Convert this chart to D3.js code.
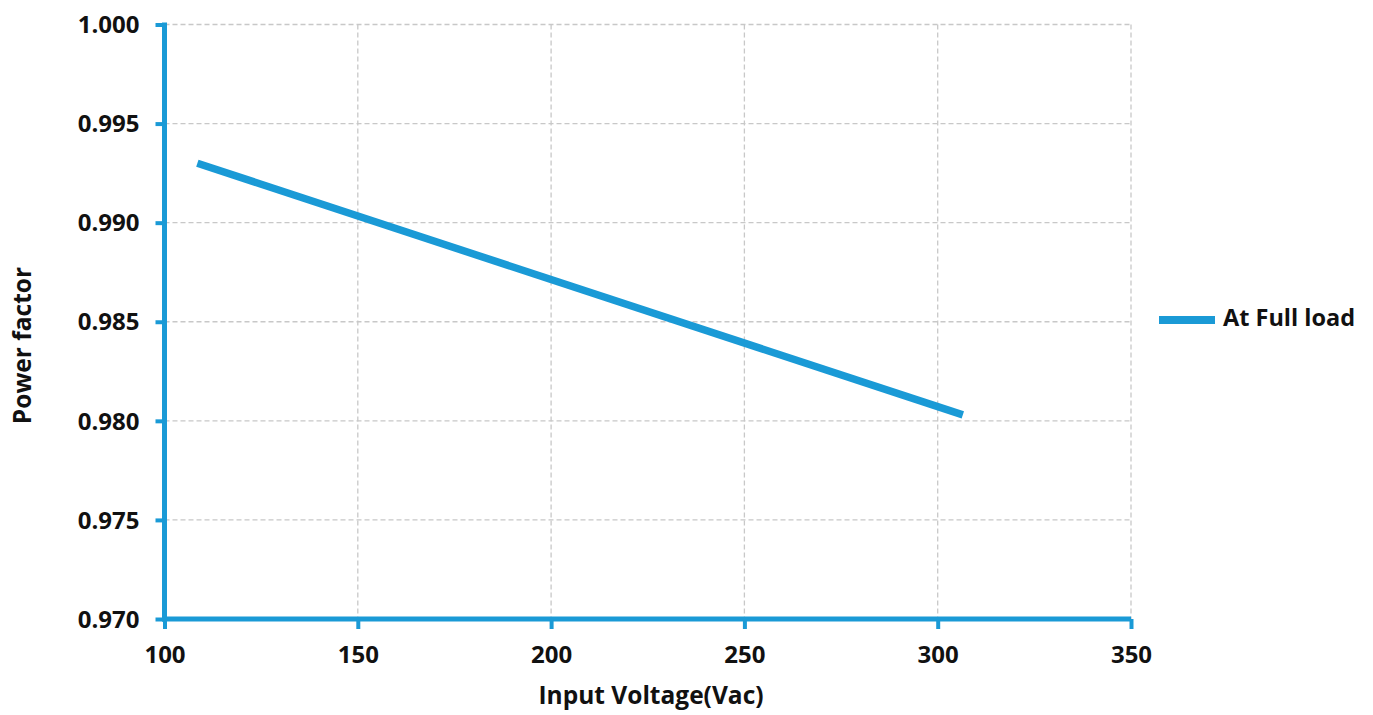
<!DOCTYPE html>
<html>
<head>
<meta charset="utf-8">
<script src="https://cdn.jsdelivr.net/npm/d3@7"></script>
<style>
  html, body { margin: 0; padding: 0; background: #ffffff; }
  svg { display: block; }
  text { font-family: "Open Sans", "Noto Sans", sans-serif; font-weight: bold; fill: #111; }
</style>
</head>
<body>
<script>
// ---- data ----
const inputVoltage = [108.5, 306.5];
const powerFactor = [0.993, 0.9803];
const seriesName = "At Full load";
const xTicks = [100, 150, 200, 250, 300, 350];
const yTicks = [0.970, 0.975, 0.980, 0.985, 0.990, 0.995, 1.000];
const xTitle = "Input Voltage(Vac)";
const yTitle = "Power factor";

const W = 1373, H = 715;
const margin = { left: 164.5, right: W - 1131, top: 24.5, bottom: H - 619 };
const blue = "#1a9ad6";

const svg = d3.select("body").append("svg").attr("width", W).attr("height", H);

const x = d3.scaleLinear().domain([100, 350]).range([margin.left, W - margin.right]);
const y = d3.scaleLinear().domain([0.970, 1.000]).range([H - margin.bottom, margin.top]);

// grid
const grid = svg.append("g");
grid.selectAll("line.gx").data(xTicks.slice(1)).join("line")
  .attr("x1", d => x(d)).attr("x2", d => x(d))
  .attr("y1", y(1.0)).attr("y2", y(0.97))
  .attr("stroke", "#c8c8c8").attr("stroke-width", 1.3).attr("stroke-dasharray", "5,3");
grid.selectAll("line.gy").data(yTicks.slice(1)).join("line")
  .attr("x1", x(100)).attr("x2", x(350))
  .attr("y1", d => y(d)).attr("y2", d => y(d))
  .attr("stroke", "#c8c8c8").attr("stroke-width", 1.3).attr("stroke-dasharray", "5,3");

// axes
const xAxis = d3.axisBottom(x).tickValues(xTicks).tickFormat(d3.format("d")).tickSizeOuter(0).tickSize(10).tickPadding(18);
const yAxis = d3.axisLeft(y).tickValues(yTicks).tickFormat(d3.format(".3f")).tickSizeOuter(0).tickSize(9).tickPadding(16);

const gx = svg.append("g").attr("transform", `translate(0,${y(0.97)})`).call(xAxis);
const gy = svg.append("g").attr("transform", `translate(${x(100)},0)`).call(yAxis);
[gx, gy].forEach(g => {
  g.select(".domain").attr("stroke", blue).attr("stroke-width", 5);
  g.selectAll(".tick line").attr("stroke", blue).attr("stroke-width", 4);
  g.selectAll(".tick text").attr("font-size", 24).attr("font-weight", "bold")
    .attr("font-family", '"Open Sans", sans-serif').attr("fill", "#111");
});
gx.selectAll(".tick text").attr("dy", "0.68em");
gy.selectAll(".tick text").attr("dy", "0.34em");
gy.select(".domain").attr("d", `M0,${y(1.0) - 2}V${y(0.97) + 2.5}`);
gx.select(".domain").attr("d", `M${-2.5 + x(100)},0H${x(350)}`);

// series line
const pts = inputVoltage.map((v, i) => [v, powerFactor[i]]);
svg.append("path").datum(pts)
  .attr("fill", "none").attr("stroke", blue).attr("stroke-width", 7.5)
  .attr("d", d3.line().x(d => x(d[0])).y(d => y(d[1])));

// titles
svg.append("text").attr("x", 651).attr("y", 704)
  .attr("text-anchor", "middle").attr("font-size", 24.5).text(xTitle);
svg.append("text").attr("transform", `translate(31,${345.5}) rotate(-90)`)
  .attr("text-anchor", "middle").attr("font-size", 24.5).text(yTitle);

// legend
const lg = svg.append("g");
lg.append("line").attr("x1", 1159).attr("x2", 1215).attr("y1", 320).attr("y2", 320)
  .attr("stroke", blue).attr("stroke-width", 8);
lg.append("text").attr("x", 1223).attr("y", 326).attr("font-size", 23.5).text(seriesName);
</script>
</body>
</html>
